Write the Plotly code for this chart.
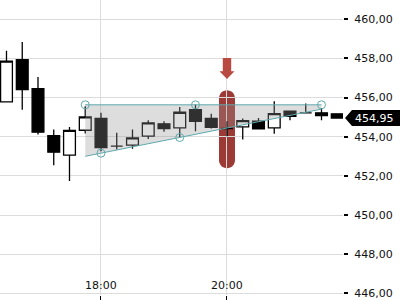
import plotly.graph_objects as go

# ---- data ----
times = ["16:30", "16:45", "17:00", "17:15", "17:30", "17:45", "18:00", "18:15",
         "18:30", "18:45", "19:00", "19:15", "19:30", "19:45", "20:00", "20:15",
         "20:30", "20:45", "21:00", "21:15", "21:30", "21:45"]
open_ = [455.78, 457.93, 456.45, 454.06, 453.06, 454.33, 454.93, 453.52,
         453.57, 454.03, 454.66, 454.45, 455.38, 454.93, 454.42, 454.50,
         454.79, 454.45, 455.30, 455.22, 455.22, 455.17]
high = [458.39, 458.84, 457.05, 454.37, 454.50, 455.55, 455.22, 454.20,
        454.37, 454.84, 454.79, 455.52, 455.64, 455.17, 454.79, 454.93,
        454.96, 455.81, 455.30, 455.69, 455.47, 455.17]
low = [455.78, 455.38, 454.11, 452.55, 451.74, 454.16, 453.26, 453.35,
       453.38, 453.89, 454.25, 453.97, 454.28, 454.42, 454.03, 453.86,
       454.40, 454.15, 454.84, 455.20, 454.84, 454.95]
close = [457.86, 456.40, 454.23, 453.21, 454.32, 455.01, 453.44, 453.52,
         453.94, 454.71, 454.42, 455.25, 454.79, 454.48, 454.42, 454.82,
         454.40, 455.18, 455.04, 455.22, 455.08, 454.95]

tri_times = ["17:45", "21:30"]
tri_upper = [455.63, 455.63]
tri_lower = [453.00, 455.41]
upper_pts_t = ["17:45", "19:30", "21:30"]
upper_pts_v = [455.63, 455.63, 455.63]
lower_pts_t = ["18:00", "19:15"]
lower_pts_v = [453.16, 453.96]

signal_time = "20:00"
signal_center = 454.38
arrow_tip = 456.95

y_ticks = [446, 448, 450, 452, 454, 456, 458, 460]
y_ticktext = ["446,00", "448,00", "450,00", "452,00", "454,00", "456,00", "458,00", "460,00"]
x_ticks = ["18:00", "20:00"]

DAY = "2024-01-02 "
def d(t):
    return DAY + t

teal = "#5fa9ad"

fig = go.Figure()

# triangle fill
fig.add_trace(go.Scatter(
    x=[d(tri_times[0]), d(tri_times[1]), d(tri_times[1]), d(tri_times[0])],
    y=[tri_upper[0], tri_upper[1], tri_lower[1], tri_lower[0]],
    fill="toself", fillcolor="rgba(150,150,150,0.32)", line=dict(width=0),
    mode="lines", hoverinfo="skip", showlegend=False))

fig.add_trace(go.Candlestick(
    x=[d(t) for t in times], open=open_, high=high, low=low, close=close,
    increasing=dict(line=dict(color="black", width=1.3), fillcolor="white"),
    decreasing=dict(line=dict(color="black", width=1.3), fillcolor="black"),
    whiskerwidth=0, showlegend=False))

fig.add_trace(go.Scatter(x=[d(t) for t in tri_times], y=tri_upper, mode="lines",
                         line=dict(color=teal, width=1), showlegend=False))
fig.add_trace(go.Scatter(x=[d(t) for t in tri_times], y=tri_lower, mode="lines",
                         line=dict(color=teal, width=1), showlegend=False))
fig.add_trace(go.Scatter(x=[d(t) for t in upper_pts_t + lower_pts_t],
                         y=upper_pts_v + lower_pts_v, mode="markers",
                         marker=dict(symbol="circle-open", size=8, color=teal,
                                     line=dict(width=1, color=teal)),
                         showlegend=False))

# signal pill (below traces) and arrow
pill = ("M -8,-31 L -8,31 C -8,35.4 -4.4,39 0,39 C 4.4,39 8,35.4 8,31 "
        "L 8,-31 C 8,-35.4 4.4,-39 0,-39 C -4.4,-39 -8,-35.4 -8,-31 Z")
fig.add_shape(type="path", xref="x", yref="y", xsizemode="pixel", ysizemode="pixel",
              xanchor=d(signal_time), yanchor=signal_center, path=pill,
              fillcolor="#9c3a36", line=dict(width=0), layer="below")
arrow = "M 0,0 L -7.5,7.6 L -4.2,7.6 L -4.2,21 L 4.2,21 L 4.2,7.6 L 7.5,7.6 Z"
fig.add_shape(type="path", xref="x", yref="y", xsizemode="pixel", ysizemode="pixel",
              xanchor=d(signal_time), yanchor=arrow_tip, path=arrow,
              fillcolor="#b84a42", line=dict(width=0), layer="above")

# last price label
PW = 343.0
last = close[-1]
lab = "M {a},0 L {b},8 L {c},8 L {c},-8 L {b},-8 Z".format(a=345 / PW, b=352 / PW, c=401 / PW)
fig.add_shape(type="path", xref="paper", yref="y", ysizemode="pixel", yanchor=last,
              path=lab, fillcolor="black", line=dict(width=0))
fig.add_annotation(xref="paper", yref="y", x=374 / PW, y=last,
                   text=f"{last:.2f}".replace(".", ","), showarrow=False,
                   font=dict(color="white", size=11, family="DejaVu Sans"),
                   xanchor="center", yanchor="middle")

# x tick labels drawn inside the plot, just above the bottom edge
for t in x_ticks:
    fig.add_annotation(xref="x", yref="paper", x=d(t), y=0, text=t, showarrow=False,
                       xanchor="center", yanchor="bottom", yshift=1,
                       font=dict(color="#111", size=11, family="DejaVu Sans"))

fig.update_layout(
    width=400, height=300, margin=dict(l=0, r=57, t=0, b=5),
    paper_bgcolor="white", plot_bgcolor="white",
    font=dict(family="DejaVu Sans", size=11, color="#111"),
    boxgap=0.25, boxgroupgap=0, showlegend=False,
    xaxis=dict(type="date", range=[d("16:23:49"), d("21:50:29")],
               rangeslider=dict(visible=False),
               tickvals=[d(t) for t in x_ticks], ticktext=x_ticks,
               ticks="outside", ticklen=5, tickcolor="black", tickwidth=1,
               showticklabels=False, showgrid=True, gridcolor="#dcdcdc",
               zeroline=False, showline=False),
    yaxis=dict(side="right", range=[445.92, 460.98], tickvals=y_ticks, ticktext=y_ticktext,
               ticks="outside", ticklen=4, tickcolor="black", tickwidth=1.5,
               showgrid=True, gridcolor="#dcdcdc", zeroline=False, showline=False,
               ticklabelstandoff=4, ticklabeloverflow="allow"),
)

fig.write_html("out.html")
